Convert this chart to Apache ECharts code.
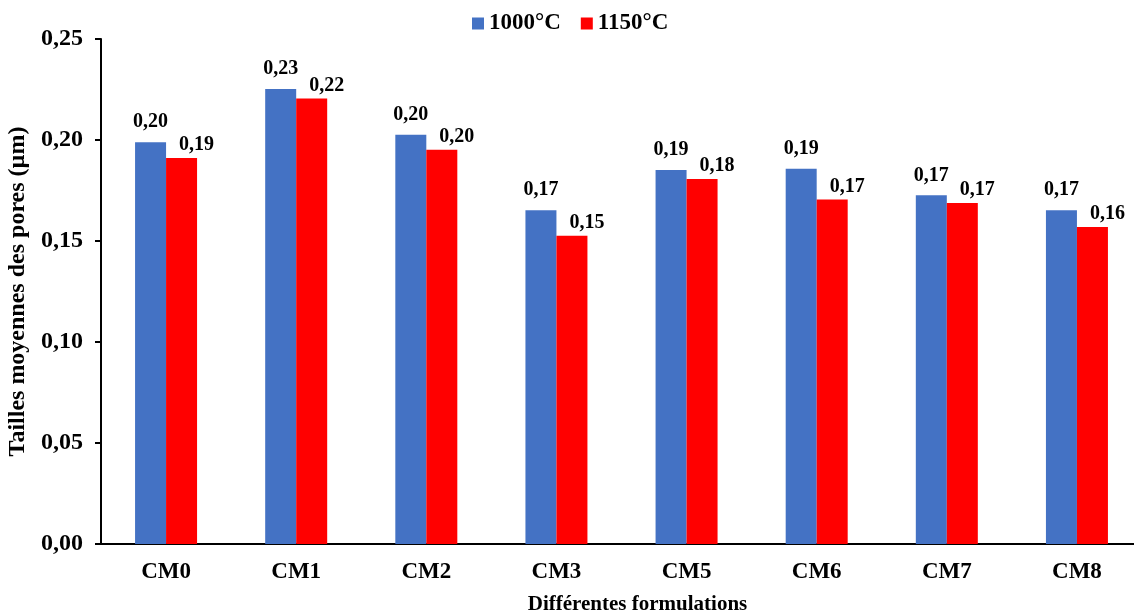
<!DOCTYPE html>
<html>
<head>
<meta charset="utf-8">
<script src="https://cdn.jsdelivr.net/npm/echarts@6/dist/echarts.min.js"></script>
<style>
html,body{margin:0;padding:0;background:#fff;}
#main{width:1134px;height:616px;}
</style>
</head>
<body>
<div id="main"></div>
<script>
const categories = ['CM0','CM1','CM2','CM3','CM5','CM6','CM7','CM8'];
const series1000 = [0.1989, 0.2252, 0.2026, 0.1652, 0.1852, 0.1858, 0.1726, 0.1652];
const series1150 = [0.1911, 0.2205, 0.1952, 0.1526, 0.1807, 0.1706, 0.1688, 0.1569];
const seriesNames = ['1000°C', '1150°C'];
const yTicks = {min: 0, max: 0.25, interval: 0.05};

const font = '"Liberation Serif", "Times New Roman", serif';
const fmt = v => v.toFixed(2).replace('.', ',');

const chart = echarts.init(document.getElementById('main'));
chart.setOption({
  animation: false,
  textStyle: {fontFamily: font},
  legend: {
    data: seriesNames,
    top: 7,
    left: 467,
    itemWidth: 12,
    itemHeight: 12,
    itemGap: 20,
    icon: 'rect',
    textStyle: {fontFamily: font, fontWeight: 'bold', fontSize: 23, color: '#000'}
  },
  grid: {left: 101, right: -8, top: 39, bottom: 72, containLabel: false, outerBoundsMode: 'none'},
  xAxis: {
    type: 'category',
    data: categories,
    axisLine: {lineStyle: {color: '#000', width: 2}},
    axisTick: {show: false},
    axisLabel: {fontFamily: font, fontWeight: 'bold', fontSize: 23, color: '#000', margin: 17},
    name: 'Différentes formulations',
    nameLocation: 'middle',
    nameGap: 50,
    nameTextStyle: {fontFamily: font, fontWeight: 'bold', fontSize: 21, color: '#000', padding: [0, 0, 0, 32]}
  },
  yAxis: {
    type: 'value',
    min: yTicks.min,
    max: yTicks.max,
    interval: yTicks.interval,
    splitLine: {show: false},
    axisLine: {show: true, lineStyle: {color: '#000', width: 2}},
    axisTick: {show: true, length: 6, lineStyle: {color: '#000', width: 2}},
    axisLabel: {fontFamily: font, fontWeight: 'bold', fontSize: 24, color: '#000', margin: 18, formatter: v => fmt(v)},
    name: 'Tailles moyennes des pores (µm)',
    nameLocation: 'middle',
    nameGap: 66,
    nameTextStyle: {fontFamily: font, fontWeight: 'bold', fontSize: 24, color: '#000'}
  },
  series: [
    {
      name: seriesNames[0],
      type: 'bar',
      data: series1000,
      barWidth: 31,
      barGap: '0%',
      itemStyle: {color: '#4472C4'},
      label: {show: true, position: 'top', distance: 10, formatter: p => fmt(p.value),
        fontFamily: font, fontWeight: 'bold', fontSize: 20, color: '#000'}
    },
    {
      name: seriesNames[1],
      type: 'bar',
      data: series1150,
      barWidth: 31,
      barGap: '0%',
      itemStyle: {color: '#FF0000'},
      label: {show: true, position: 'top', distance: 3, offset: [15, 0], formatter: p => fmt(p.value),
        fontFamily: font, fontWeight: 'bold', fontSize: 20, color: '#000'}
    }
  ]
});
</script>
</body>
</html>
